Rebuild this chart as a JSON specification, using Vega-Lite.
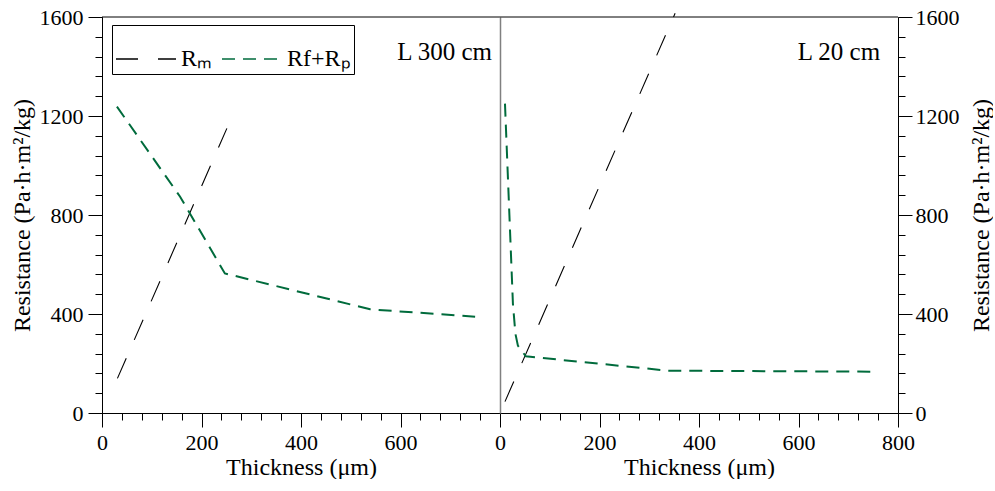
{
  "$schema": "https://vega.github.io/schema/vega-lite/v6.json",
  "autosize": {"type": "pad"},
  "padding": {"left": 10, "top": 6, "right": 0, "bottom": 0},
  "background": "white",
  "config": {
    "font": "Times New Roman",
    "view": {"stroke": null},
    "axis": {
      "domainColor": "#000000",
      "ticks": true,
      "tickColor": "#000000",
      "tickWidth": 1,
      "labelColor": "black",
      "titleColor": "black",
      "labelFont": "Times New Roman",
      "titleFont": "Times New Roman",
      "labelFontSize": 22,
      "titleFontSize": 24,
      "titleFontWeight": "normal",
      "grid": false,
      "labelPadding": 5,
      "labelFlush": false,
      "labelOverlap": false,
      "format": "d"
    },
    "legend": {
      "labelFont": "Times New Roman",
      "labelFontSize": 24,
      "labelColor": "black"
    }
  },
  "datasets": {
    "curves": [
      {"panel": "L 300 cm", "series": "Rm", "x": 31, "y": 140},
      {"panel": "L 300 cm", "series": "Rm", "x": 251, "y": 1150},
      {"panel": "L 300 cm", "series": "Rf+Rp", "x": 30, "y": 1238},
      {"panel": "L 300 cm", "series": "Rf+Rp", "x": 157, "y": 874},
      {"panel": "L 300 cm", "series": "Rf+Rp", "x": 247, "y": 564},
      {"panel": "L 300 cm", "series": "Rf+Rp", "x": 539, "y": 419},
      {"panel": "L 300 cm", "series": "Rf+Rp", "x": 750, "y": 389},
      {"panel": "L 20 cm", "series": "Rm", "x": 10, "y": 46},
      {"panel": "L 20 cm", "series": "Rm", "x": 352, "y": 1615},
      {"panel": "L 20 cm", "series": "Rf+Rp", "x": 10, "y": 1250},
      {"panel": "L 20 cm", "series": "Rf+Rp", "x": 26, "y": 440},
      {"panel": "L 20 cm", "series": "Rf+Rp", "x": 31, "y": 320},
      {"panel": "L 20 cm", "series": "Rf+Rp", "x": 36, "y": 272},
      {"panel": "L 20 cm", "series": "Rf+Rp", "x": 52, "y": 229},
      {"panel": "L 20 cm", "series": "Rf+Rp", "x": 338, "y": 171},
      {"panel": "L 20 cm", "series": "Rf+Rp", "x": 745, "y": 167}
    ]
  },
  "spacing": 0,
  "bounds": "flush",
  "resolve": {"legend": {"color": "independent", "strokeDash": "independent"}},
  "hconcat": [
    {
      "width": 398,
      "height": 396,
      "resolve": {"axis": {"x": "independent", "y": "independent"}},
      "layer": [
        {
          "data": {"name": "curves"},
          "transform": [{"filter": "datum.panel === 'L 300 cm'"}],
          "mark": {"type": "line", "clip": false},
          "encoding": {
            "x": {
              "field": "x", "type": "quantitative",
              "scale": {"domain": [0, 800], "nice": false},
              "axis": {
                "orient": "bottom",
                "title": "Thickness (μm)",
                "values": [0, 200, 400, 600],
                "tickSize": 14,
                "titlePadding": 2
              }
            },
            "y": {
              "field": "y", "type": "quantitative",
              "scale": {"domain": [0, 1600], "nice": false},
              "axis": {
                "orient": "left",
                "title": "Resistance (Pa·h·m²/kg)",
                "values": [0, 400, 800, 1200, 1600],
                "tickSize": 14,
                "titlePadding": 5
              }
            },
            "color": {
              "field": "series", "type": "nominal",
              "scale": {"domain": ["Rm", "Rf+Rp"], "range": ["black", "#006b3c"]},
              "legend": {
                "title": null,
                "orient": "none",
                "legendX": 10,
                "legendY": 8,
                "direction": "horizontal",
                "columns": 2,
                "strokeColor": "black",
                "fillColor": "white",
                "padding": 3,
                "symbolType": "stroke",
                "symbolSize": 3600,
                "symbolStrokeWidth": 1.5,
                "columnPadding": 6,
                "labelOffset": 4,
                "labelExpr": "datum.value === 'Rm' ? 'Rₘ' : 'Rf+Rₚ'"
              }
            },
            "strokeDash": {
              "field": "series", "type": "nominal",
              "scale": {"domain": ["Rm", "Rf+Rp"], "range": [[22, 20], [13, 8]]},
              "legend": {
                "title": null,
                "orient": "none",
                "legendX": 10,
                "legendY": 8,
                "direction": "horizontal",
                "columns": 2,
                "strokeColor": "black",
                "fillColor": "white",
                "padding": 3,
                "symbolType": "stroke",
                "symbolSize": 3600,
                "symbolStrokeWidth": 1.5,
                "columnPadding": 6,
                "labelOffset": 4,
                "labelExpr": "datum.value === 'Rm' ? 'Rₘ' : 'Rf+Rₚ'"
              }
            },
            "strokeWidth": {
              "field": "series", "type": "nominal",
              "scale": {"domain": ["Rm", "Rf+Rp"], "range": [1.1, 2]},
              "legend": null
            }
          }
        },
        {
          "data": {"values": [{"label": "L 300 cm"}]},
          "mark": {"type": "text", "align": "right", "baseline": "middle", "fontSize": 25, "font": "Times New Roman", "color": "black"},
          "encoding": {
            "x": {
              "datum": 784, "type": "quantitative",
              "axis": {"orient": "bottom", "title": null, "labels": false, "domain": false, "tickSize": 7,
                       "values": [0,40,80,120,160,200,240,280,320,360,400,440,480,520,560,600,640,680,720,760]}
            },
            "y": {
              "datum": 1458, "type": "quantitative",
              "axis": {"orient": "left", "title": null, "labels": false, "domain": false, "tickSize": 7,
                       "values": [0,80,160,240,320,400,480,560,640,720,800,880,960,1040,1120,1200,1280,1360,1440,1520,1600]}
            },
            "text": {"field": "label"}
          }
        },
        {
          "data": {"values": [{"label": "top"}]},
          "mark": {"type": "rule", "color": "black", "strokeWidth": 1},
          "encoding": {
            "y": {"datum": 1600, "type": "quantitative", "axis": null}
          }
        }
      ]
    },
    {
      "width": 398,
      "height": 396,
      "resolve": {"axis": {"x": "independent", "y": "independent"}},
      "layer": [
        {
          "data": {"name": "curves"},
          "transform": [{"filter": "datum.panel === 'L 20 cm'"}],
          "mark": {"type": "line", "clip": false},
          "encoding": {
            "x": {
              "field": "x", "type": "quantitative",
              "scale": {"domain": [0, 800], "nice": false},
              "axis": {
                "orient": "bottom",
                "title": "Thickness (μm)",
                "values": [0, 200, 400, 600, 800],
                "tickSize": 14,
                "titlePadding": 2
              }
            },
            "y": {
              "field": "y", "type": "quantitative",
              "scale": {"domain": [0, 1600], "nice": false},
              "axis": {
                "orient": "right",
                "title": "Resistance (Pa·h·m²/kg)",
                "titleAngle": 270,
                "titleBaseline": "top",
                "values": [0, 400, 800, 1200, 1600],
                "tickSize": 14,
                "labelPadding": 3,
                "titlePadding": 10
              }
            },
            "color": {
              "field": "series", "type": "nominal",
              "scale": {"domain": ["Rm", "Rf+Rp"], "range": ["black", "#006b3c"]},
              "legend": null
            },
            "strokeDash": {
              "field": "series", "type": "nominal",
              "scale": {"domain": ["Rm", "Rf+Rp"], "range": [[22, 20], [13, 8]]},
              "legend": null
            },
            "strokeWidth": {
              "field": "series", "type": "nominal",
              "scale": {"domain": ["Rm", "Rf+Rp"], "range": [1.1, 2]},
              "legend": null
            }
          }
        },
        {
          "data": {"values": [{"label": "L 20 cm"}]},
          "mark": {"type": "text", "align": "right", "baseline": "middle", "fontSize": 25, "font": "Times New Roman", "color": "black"},
          "encoding": {
            "x": {
              "datum": 764, "type": "quantitative",
              "axis": {"orient": "bottom", "title": null, "labels": false, "domain": false, "tickSize": 7,
                       "values": [0,40,80,120,160,200,240,280,320,360,400,440,480,520,560,600,640,680,720,760,800]}
            },
            "y": {
              "datum": 1458, "type": "quantitative",
              "axis": {"orient": "right", "title": null, "labels": false, "domain": false, "tickSize": 7,
                       "values": [0,80,160,240,320,400,480,560,640,720,800,880,960,1040,1120,1200,1280,1360,1440,1520,1600]}
            },
            "text": {"field": "label"}
          }
        },
        {
          "data": {"values": [{"label": "top"}]},
          "mark": {"type": "rule", "color": "black", "strokeWidth": 1},
          "encoding": {
            "y": {
              "datum": 1600, "type": "quantitative",
              "axis": {"orient": "left", "title": null, "labels": false, "ticks": false, "domain": true, "domainColor": "#808080", "domainWidth": 1.5}
            }
          }
        }
      ]
    }
  ]
}
